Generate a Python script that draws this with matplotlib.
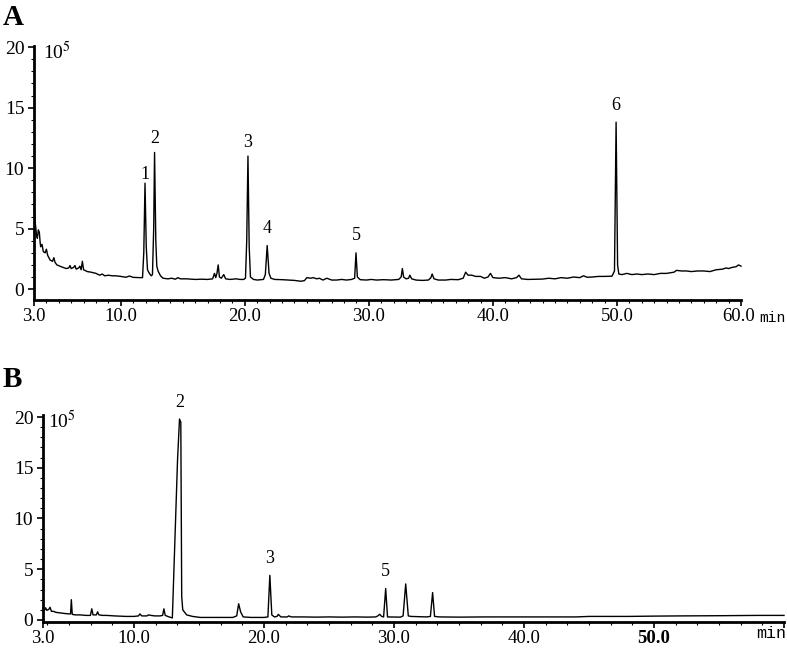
import matplotlib
matplotlib.use("Agg")
import matplotlib.pyplot as plt
from matplotlib.ticker import MultipleLocator, FixedLocator

# ---------------- data ----------------
# Panel A chromatogram (time in min, signal in 10^5)
A_time = [3.0, 3.08, 3.2, 3.27, 3.35, 3.43, 3.5, 3.54, 3.65, 3.75, 3.9, 4.0, 4.1, 4.3, 4.5, 4.6, 4.7, 4.85,
          5.2, 5.6, 5.8, 5.9, 6.0, 6.2, 6.3, 6.4, 6.6, 6.7, 6.8, 6.9, 7.0, 7.3, 7.6, 8.0, 8.3, 8.5, 8.7,
          9.0, 9.3, 9.6, 10.0, 10.4, 10.7, 11.0, 11.5, 11.75, 11.85, 11.95, 12.05, 12.15, 12.3, 12.45,
          12.55, 12.65, 12.72, 12.82, 12.9, 13.0, 13.2, 13.4, 13.8, 14.1, 14.4, 14.6, 14.8, 15.3, 16.0,
          16.5, 17.0, 17.4, 17.55, 17.65, 17.75, 17.85, 17.95, 18.1, 18.3, 18.45, 18.8, 19.3, 19.6, 19.9,
          20.05, 20.15, 20.25, 20.35, 20.45, 20.7, 21.0, 21.5, 21.65, 21.8, 21.95, 22.1, 22.4, 23.0, 23.5,
          24.0, 24.5, 24.8, 25.0, 25.3, 25.5, 25.8, 26.0, 26.3, 26.6, 27.0, 27.4, 27.8, 28.2, 28.6, 28.85,
          28.96, 29.07, 29.3, 29.8, 30.2, 30.6, 31.2, 31.8, 32.4, 32.6, 32.7, 32.8, 33.0, 33.2, 33.3, 33.45,
          33.8, 34.3, 34.8, 35.0, 35.1, 35.25, 35.6, 36.2, 36.6, 37.2, 37.6, 37.8, 38.0, 38.3, 38.6, 39.0,
          39.3, 39.6, 39.8, 40.0, 40.5, 41.0, 41.5, 41.9, 42.1, 42.3, 42.8, 43.5, 44.0, 44.5, 45.0, 45.5,
          46.0, 46.5, 47.0, 47.3, 47.6, 48.0, 48.5, 49.0, 49.6, 49.8, 49.93, 50.05, 50.15, 50.4, 50.8, 51.2,
          51.6, 52.0, 52.5, 53.0, 53.5, 54.0, 54.6, 54.8, 55.2, 55.6, 56.0, 56.5, 57.0, 57.5, 58.0, 58.5,
          58.8, 59.0, 59.3, 59.6, 59.8, 60.0]
A_signal = [7.1, 5.7, 4.5, 4.2, 4.9, 4.7, 3.8, 3.5, 3.7, 3.1, 3.0, 3.3, 2.8, 2.4, 2.3, 2.6, 2.2, 2.0,
            1.85, 1.7, 1.75, 1.95, 1.7, 1.8, 1.95, 1.65, 1.75, 1.9, 1.6, 2.3, 1.6, 1.45, 1.4, 1.3, 1.15, 1.25, 1.1,
            1.15, 1.1, 1.1, 1.05, 0.98, 1.08, 0.97, 0.95, 0.95, 3.0, 8.76, 3.5, 1.6, 1.3, 1.1,
            1.2, 5.0, 11.3, 4.0, 1.9, 1.5, 1.1, 0.9, 0.85, 0.9, 0.82, 0.95, 0.85, 0.85, 0.8,
            0.82, 0.8, 0.85, 1.3, 0.95, 1.3, 2.0, 1.0, 0.9, 1.2, 0.85, 0.8, 0.85, 0.8, 0.8,
            0.9, 4.0, 11.0, 3.5, 1.0, 0.8, 0.75, 0.8, 1.2, 3.6, 1.3, 0.9, 0.8, 0.78, 0.75,
            0.72, 0.65, 0.7, 0.95, 0.9, 0.95, 0.85, 0.9, 0.75, 0.9, 0.75, 0.75, 0.8, 0.75, 0.8, 0.9,
            3.0, 1.0, 0.78, 0.75, 0.8, 0.75, 0.78, 0.75, 0.8, 1.0, 1.7, 1.0, 0.85, 0.9, 1.15, 0.85,
            0.75, 0.72, 0.75, 0.95, 1.25, 0.85, 0.75, 0.75, 0.8, 0.78, 0.9, 1.4, 1.15, 1.15, 1.05, 1.05,
            0.9, 1.0, 1.3, 0.95, 0.9, 0.95, 0.85, 0.95, 1.15, 0.85, 0.8, 0.82, 0.83, 0.9, 0.85, 0.95,
            0.9, 1.0, 0.95, 1.1, 0.98, 1.0, 1.05, 1.05, 1.07, 1.5, 13.8, 2.0, 1.25, 1.2, 1.3, 1.2,
            1.25, 1.2, 1.25, 1.2, 1.3, 1.3, 1.4, 1.55, 1.5, 1.5, 1.45, 1.5, 1.5, 1.45, 1.6, 1.65,
            1.75, 1.7, 1.8, 1.85, 2.0, 1.9]

A_peak_labels = ["1", "2", "3", "4", "5", "6"]
A_peak_time = [11.95, 12.72, 20.25, 21.8, 28.96, 49.93]
A_peak_height = [8.76, 11.3, 11.0, 3.6, 3.0, 13.8]

# Panel B chromatogram
B_time = [3.0, 3.1, 3.2, 3.3, 3.45, 3.54, 3.65, 3.8, 4.0, 4.3, 4.6, 4.95, 5.12, 5.18, 5.25, 5.5, 5.85,
          6.3, 6.65, 6.75, 6.85, 7.1, 7.2, 7.3, 7.6, 7.9, 8.5, 9.4, 10.0, 10.35, 10.45, 10.6, 11.0, 11.1,
          11.3, 11.6, 12.0, 12.2, 12.3, 12.4, 12.7, 12.95, 13.35, 13.5, 13.6, 13.67, 13.75, 14.05, 14.5,
          15.1, 16.0, 17.0, 17.6, 17.9, 18.05, 18.2, 18.4, 19.0, 20.0, 20.3, 20.45, 20.6, 20.8, 21.0,
          21.1, 21.3, 21.8, 21.9, 22.1, 23.0, 24.0, 25.0, 26.0, 27.0, 28.0, 28.6, 28.75, 28.9, 29.05,
          29.2, 29.36, 29.5, 30.5, 30.7, 30.9, 31.1, 31.3, 32.5, 32.8, 32.97, 33.12, 33.5, 35.0, 37.0,
          40.0, 44.0, 45.0, 48.0, 50.0, 52.0, 55.0, 58.0, 60.0]
B_signal = [1.15, 0.9, 1.2, 0.95, 1.05, 1.25, 0.85, 0.85, 0.75, 0.7, 0.65, 0.6, 0.6, 2.0, 0.55, 0.5, 0.5,
            0.45, 0.45, 1.1, 0.5, 0.5, 0.8, 0.5, 0.45, 0.45, 0.4, 0.35, 0.35, 0.4, 0.6, 0.4, 0.4, 0.5,
            0.45, 0.4, 0.4, 0.45, 1.1, 0.45, 0.3, 0.2, 15.8, 19.8, 19.5, 2.3, 1.0, 0.5, 0.35,
            0.25, 0.25, 0.25, 0.25, 0.4, 1.6, 0.8, 0.3, 0.25, 0.25, 0.3, 4.4, 0.5, 0.3, 0.35,
            0.55, 0.3, 0.3, 0.4, 0.3, 0.3, 0.28, 0.3, 0.28, 0.3, 0.28, 0.3, 0.4, 0.56, 0.35,
            0.3, 3.1, 0.3, 0.28, 0.4, 3.55, 0.4, 0.35, 0.3, 0.35, 2.7, 0.35, 0.3, 0.28, 0.3,
            0.3, 0.3, 0.35, 0.35, 0.38, 0.4, 0.42, 0.45, 0.45]

B_peak_labels = ["2", "3", "5"]
B_peak_time = [13.5, 20.45, 29.36]
B_peak_height = [19.8, 4.4, 3.1]

x_major = [3.0, 10.0, 20.0, 30.0, 40.0, 50.0, 60.0]
A_xlabels = ["3.0", "10.0", "20.0", "30.0", "40.0", "50.0", "60.0"]
B_xlabels = ["3.0", "10.0", "20.0", "30.0", "40.0", "50.0", ""]
y_major = [0, 5, 10, 15, 20]

# ---------------- drawing ----------------
W, H = 787, 650
fig = plt.figure(figsize=(W / 100, H / 100), dpi=100)
serif = ["Liberation Serif", "DejaVu Serif"]
plt.rcParams["mathtext.fontset"] = "stix"


def px_axes(l, r, b, t):
    return fig.add_axes([l / W, 1 - b / H, (r - l) / W, (b - t) / H])


axA = px_axes(34, 741, 300, 46)
axB = px_axes(43, 784, 622, 415)


def style(ax, ylo, yhi, xlabels, minor_x):
    ax.set_xlim(3, 60)
    ax.set_ylim(ylo, yhi)
    for s in ("top", "right"):
        ax.spines[s].set_visible(False)
    for s in ("left", "bottom"):
        ax.spines[s].set_linewidth(2.0)
    ax.xaxis.set_major_locator(FixedLocator(x_major))
    ax.set_xticklabels(xlabels, fontfamily=serif, fontsize=13.5)
    ax.xaxis.set_minor_locator(FixedLocator(minor_x))
    ax.yaxis.set_major_locator(FixedLocator(y_major))
    ax.set_yticklabels([str(v) for v in y_major], fontfamily=serif, fontsize=14)
    ax.yaxis.set_minor_locator(MultipleLocator(1))
    ax.tick_params(axis="both", which="major", direction="out", length=4, width=1.2, pad=2)
    ax.tick_params(axis="both", which="minor", direction="out", length=2.5, width=0.8)
    ax.tick_params(axis="y", which="major", pad=3)


minorA = [v for v in range(4, 60)]
minorB = [10 + i * 10 / 6 for i in range(-4, 31)]
minorB = [v for v in minorB if 3 < v < 60]

style(axA, -0.9, 20.1, A_xlabels, minorA)
style(axB, -0.2, 20.2, B_xlabels, minorB)

axA.plot(A_time, A_signal, color="black", lw=1.0, clip_on=False)
axB.plot(B_time, B_signal, color="black", lw=1.0, clip_on=False)

A_offsets = [0, 4, 4, 6, 6, 6]
for lab, t, h, off in zip(A_peak_labels, A_peak_time, A_peak_height, A_offsets):
    axA.annotate(lab, (t, h), xytext=(0, off), textcoords="offset points",
                 ha="center", va="bottom", fontfamily=serif, fontsize=13)
for lab, t, h in zip(B_peak_labels, B_peak_time, B_peak_height):
    axB.annotate(lab, (t, h), xytext=(0, 6), textcoords="offset points",
                 ha="center", va="bottom", fontfamily=serif, fontsize=13)

# bold "50.0" in panel B
for lbl in axB.get_xticklabels():
    if lbl.get_text() == "50.0":
        lbl.set_fontweight("bold")

# units and panel letters
fig.text(43 / W, 1 - 59 / H, r"10$^{5}$", fontfamily=serif, fontsize=14, va="baseline", ha="left")
fig.text(48 / W, 1 - 428 / H, r"10$^{5}$", fontfamily=serif, fontsize=14, va="baseline", ha="left")
fig.text(786 / W, 1 - 318 / H, "min", fontfamily=["Liberation Mono"], fontsize=10.5, va="center", ha="right")
fig.text(786 / W, 1 - 634 / H, "min", fontfamily=["Liberation Mono"], fontsize=12, va="center", ha="right")
fig.text(3 / W, 1 - 4 / H, "A", fontfamily=serif, fontsize=21, fontweight="bold", va="top", ha="left")
fig.text(3 / W, 1 - 366 / H, "B", fontfamily=serif, fontsize=21, fontweight="bold", va="top", ha="left")

# nudge the last A tick label left so it sits beside "min" as in the reference
for lbl in axA.get_xticklabels():
    if lbl.get_text() == "60.0":
        lbl.set_horizontalalignment("right")
        lbl.set_x(60.0)
fig.canvas.draw()
from matplotlib.transforms import ScaledTranslation
for lbl in axA.get_xticklabels():
    if lbl.get_text() == "60.0":
        lbl.set_transform(lbl.get_transform() + ScaledTranslation(10 / 72, 0, fig.dpi_scale_trans))

fig.savefig("out.png", dpi=100)
